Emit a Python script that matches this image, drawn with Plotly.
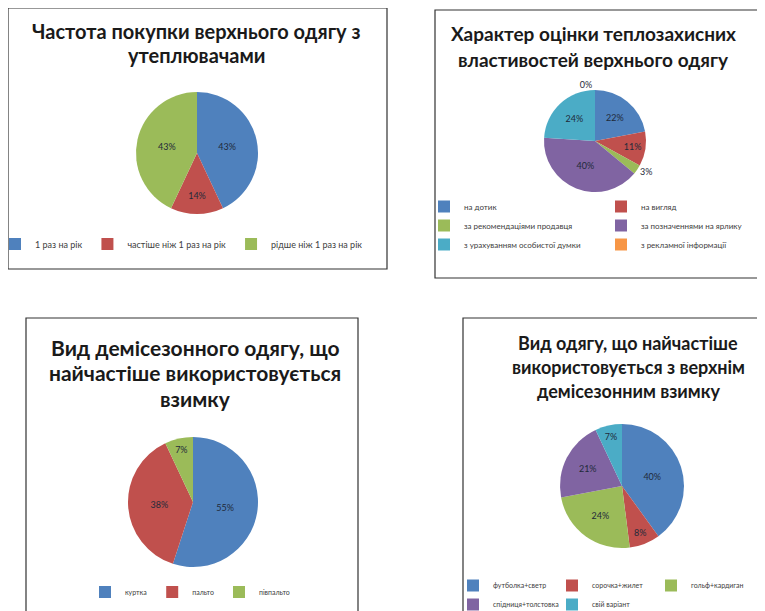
import plotly.graph_objects as go

# ---------------- data ----------------
title1 = ["Частота покупки верхнього одягу з", "утеплювачами"]
labels1 = ["1 раз на рік", "частіше ніж 1 раз на рік", "рідше ніж 1 раз на рік"]
values1 = [43, 14, 43]

title2 = ["Характер оцінки теплозахисних", "властивостей верхнього одягу"]
labels2 = ["на дотик", "на вигляд", "за рекомендаціями продавця",
           "за позначеннями на ярлику", "з урахуванням особистої думки",
           "з рекламної інформації"]
values2 = [22, 11, 3, 40, 24, 0]

title3 = ["Вид демісезонного одягу, що", "найчастіше використовується", "взимку"]
labels3 = ["куртка", "пальто", "півпальто"]
values3 = [55, 38, 7]

title4 = ["Вид одягу, що найчастіше", "використовується з верхнім", "демісезонним взимку"]
labels4 = ["футболка+светр", "сорочка+жилет", "гольф+кардиган",
           "спідниця+толстовка", "свій варіант"]
values4 = [40, 8, 24, 21, 7]

colors = ["#4F81BD", "#C0504D", "#9BBB59", "#8064A2", "#4BACC6", "#F79646"]

# ---------------- layout helpers (window pixel -> paper) ----------------
OFF = 8                 # page body margin
FW, FH = 765 + OFF, 611 + OFF
PW = 700                # plot-area width
MR = FW - PW


def px(x):
    return (x - OFF) / PW


def py(y):
    return 1 - (y - OFF) / FH


def dom(x0, x1, y0, y1):
    return dict(x=[px(x0), px(x1)], y=[py(y1), py(y0)])


TXT = dict(family="Lato, Arial, sans-serif", size=9, color="#1f2a3a")

fig = go.Figure()

fig.add_trace(go.Pie(
    labels=labels1, values=values1, sort=False, direction="clockwise", rotation=0,
    marker=dict(colors=colors[:3], line=dict(width=0)),
    texttemplate="%{value}%", textposition="inside", insidetextorientation="horizontal",
    textfont=TXT, domain=dom(136, 258, 92, 214), legend="legend", hoverinfo="label+percent"))

fig.add_trace(go.Pie(
    labels=labels2, values=values2, sort=False, direction="clockwise", rotation=0,
    marker=dict(colors=colors, line=dict(width=0)),
    texttemplate="%{value}%",
    textposition=["inside", "inside", "outside", "inside", "inside", "outside"],
    insidetextorientation="horizontal",
    textfont=TXT, domain=dom(544, 646, 90, 192), legend="legend2", hoverinfo="label+percent"))

fig.add_trace(go.Pie(
    labels=labels3, values=values3, sort=False, direction="clockwise", rotation=0,
    marker=dict(colors=colors[:3], line=dict(width=0)),
    texttemplate="%{value}%", textposition="inside", insidetextorientation="horizontal",
    textfont=TXT, domain=dom(128, 258, 437, 567), legend="legend3", hoverinfo="label+percent"))

fig.add_trace(go.Pie(
    labels=labels4, values=values4, sort=False, direction="clockwise", rotation=0,
    marker=dict(colors=colors[:5], line=dict(width=0)),
    texttemplate="%{value}%", textposition="inside", insidetextorientation="horizontal",
    textfont=TXT, domain=dom(560, 684, 424, 548), legend="legend4", hoverinfo="label+percent"))

# frames around each chart (window pixels)
boxes = [(8, 8, 387, 269), (435, 10, 758, 278), (26, 318, 358, 650), (463, 318, 763, 650)]
shapes = [dict(type="rect", xref="paper", yref="paper",
               x0=px(a), x1=px(c), y0=py(d), y1=py(b),
               line=dict(color="#333333", width=1.2), fillcolor="rgba(0,0,0,0)")
          for a, b, c, d in boxes]

TF = "Lato, Open Sans, Arial, sans-serif"
annotations = []


def add_title(lines, cx, ys, size):
    for line, yy in zip(lines, ys):
        annotations.append(dict(
            text="<b>" + line + "</b>", x=px(cx), y=py(yy), xref="paper", yref="paper",
            showarrow=False, xanchor="center", yanchor="middle",
            font=dict(family=TF, size=size, color="#1a1a1a")))


add_title(title1, 196, [31, 55], 20)
add_title(title2, 593, [33, 60], 19)
add_title(title3, 195, [347, 372, 398], 21)
add_title(title4, 628, [343, 367, 391], 18)

LF = "Lato, Arial, sans-serif"
LC = "#404040"
NOBG = "rgba(0,0,0,0)"
fig.update_layout(
    width=FW, height=FH,
    margin=dict(l=0, r=MR, t=0, b=0, autoexpand=False),
    paper_bgcolor="white", plot_bgcolor="white",
    shapes=shapes, annotations=annotations,
    legend=dict(orientation="h", x=px(-5), y=py(244), xanchor="left", yanchor="middle",
                font=dict(family=LF, size=9, color=LC), itemwidth=30, bgcolor=NOBG),
    legend2=dict(orientation="h", x=px(778), y=py(192), xanchor="right", yanchor="top",
                 font=dict(family=LF, size=8, color=LC), itemwidth=30, bgcolor=NOBG,
                 entrywidth=132),
    legend3=dict(orientation="h", x=px(190), y=py(592), xanchor="center", yanchor="middle",
                 font=dict(family=LF, size=7, color=LC), itemwidth=30, bgcolor=NOBG),
    legend4=dict(orientation="h", x=px(750), y=py(571), xanchor="right", yanchor="top",
                 font=dict(family=LF, size=7, color=LC), itemwidth=30, bgcolor=NOBG,
                 entrywidth=54),
)

fig.write_html("out.html")
